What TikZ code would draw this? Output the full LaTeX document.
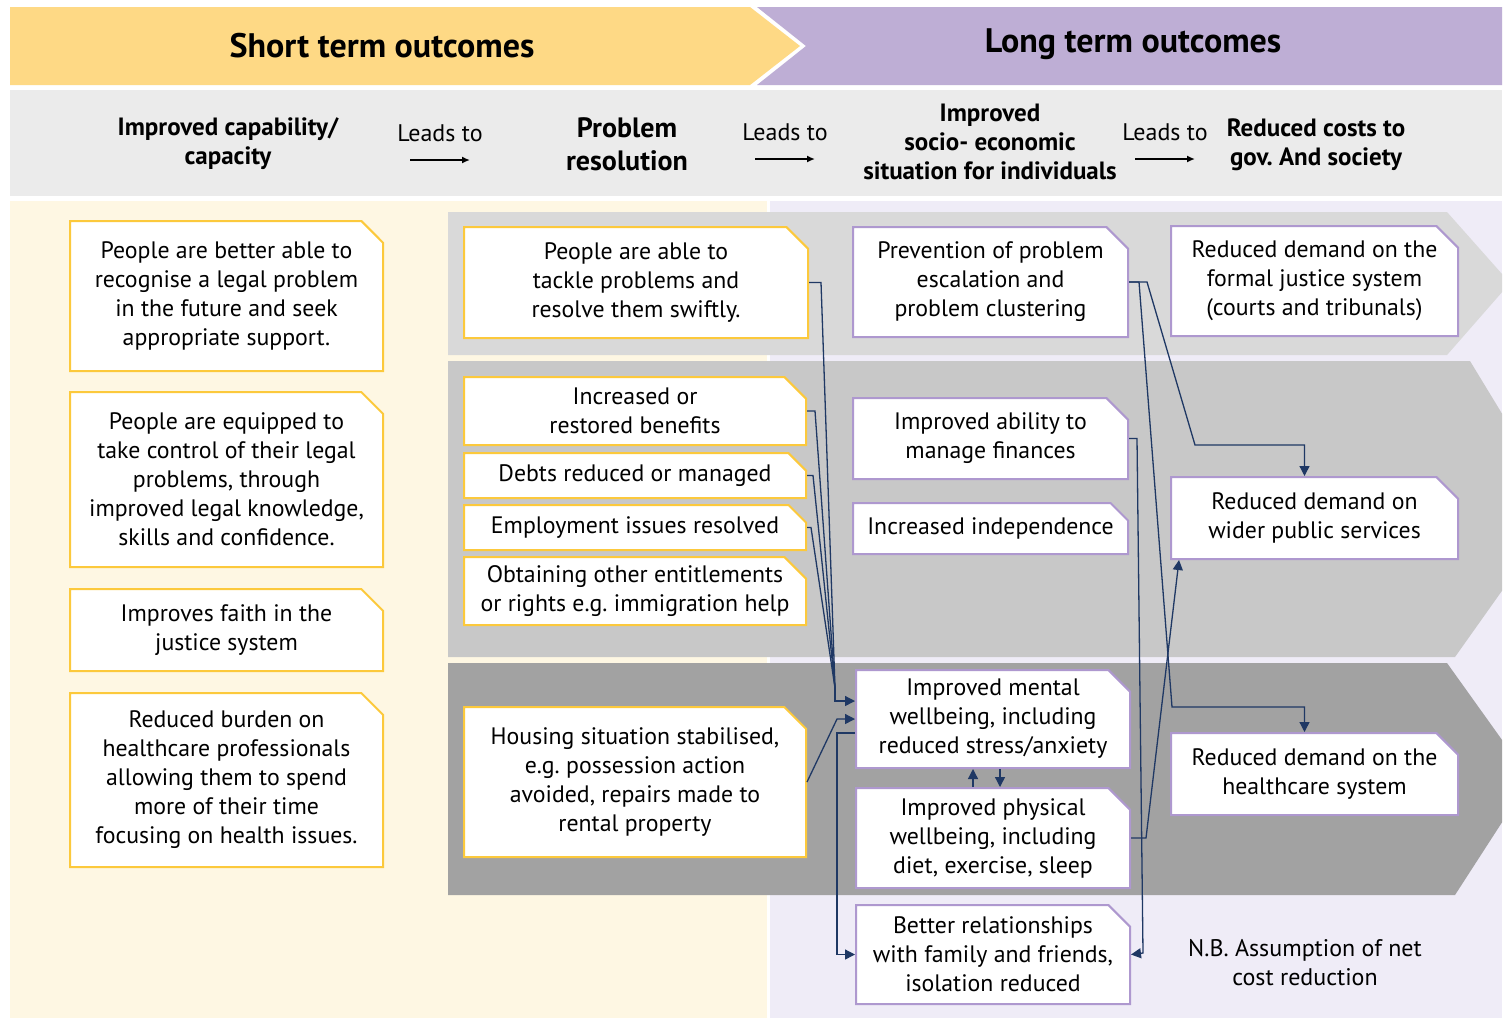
\documentclass[tikz,border=0pt]{standalone}
\usepackage{fontspec}
\setmainfont{PT Sans}
\usetikzlibrary{shapes.misc, arrows.meta}

\definecolor{shortyellow}{HTML}{FED985}
\definecolor{longpurple}{HTML}{BEAED5}
\definecolor{headgrey}{HTML}{EBEBEB}
\definecolor{shortpale}{HTML}{FEF7E3}
\definecolor{longpale}{HTML}{EFECF7}
\definecolor{bandone}{HTML}{D9D9D9}
\definecolor{bandtwo}{HTML}{C8C8C8}
\definecolor{bandthree}{HTML}{A2A2A2}
\definecolor{edgeyellow}{HTML}{FCC93C}
\definecolor{edgepurple}{HTML}{AE98CF}
\definecolor{linkblue}{HTML}{1F3864}

\begin{document}
\begin{tikzpicture}[x=0.5pt, y=-0.5pt,
  outbox/.style={chamfered rectangle, chamfered rectangle corners=north east,
    chamfered rectangle angle=45, chamfered rectangle xsep=7.5pt,
    draw=edgeyellow, line width=1pt, fill=white, align=center, inner sep=0pt,
    font=\fontsize{11.9}{14.5}\selectfont},
  longbox/.style={outbox, draw=edgepurple},
  headtext/.style={align=center, font=\bfseries\fontsize{12.5}{14.5}\selectfont},
  leadtext/.style={font=\fontsize{12}{14.5}\selectfont},
  bannertext/.style={font=\bfseries\fontsize{17}{20}\selectfont},
  link/.style={draw=linkblue, line width=0.65pt},
  arr/.style={link, -{Triangle[length=5pt, width=5pt]}}]

\useasboundingbox[fill=white] (0,0) rectangle (1503,1019);

% banners and bands
\begin{scope}
\clip (0,0) rectangle (1502,1019);
\fill[shortyellow] (10,7) -- (750,7) -- (800,46) -- (750,85) -- (10,85) -- cycle;
\fill[longpurple] (757,7) -- (1502,7) -- (1502,85) -- (757,85) -- (806,46) -- cycle;
\fill[headgrey] (10,90) rectangle (1502,196);
\fill[shortpale] (10,201) rectangle (767,1018);
\fill[longpale] (770,201) rectangle (1502,1018);
\fill[bandone] (448,212) -- (1447,212) -- (1510,283) -- (1447,355) -- (448,355) -- cycle;
\fill[bandtwo] (448,361) -- (1470,361) -- (1560,509) -- (1455,657) -- (448,657) -- cycle;
\fill[bandthree] (448,663) -- (1447,663) -- (1530,779) -- (1455,895) -- (448,895) -- cycle;
\end{scope}

\node[bannertext] (shortlbl) at (382,46) {Short term outcomes};
\node[bannertext] (longlbl) at (1133,44) {Long term outcomes};

% column headings
\node[headtext] (capability) at (228,144) {Improved capability/\\capacity};
\node[headtext, font=\bfseries\fontsize{14}{16.5}\selectfont] (resolution) at (627,144) {Problem\\resolution};
\node[headtext] (socio) at (990,142) {Improved\\socio- economic\\situation for individuals};
\node[headtext] (costs) at (1316,145) {Reduced costs to\\gov.\ And society};
\node[leadtext] (leadone) at (440,133) {Leads to};
\node[leadtext] (leadtwo) at (785,132) {Leads to};
\node[leadtext] (leadthree) at (1165,132) {Leads to};
\foreach \l in {leadone, leadtwo, leadthree}
  \draw[line width=0.8pt, -{Latex[length=4pt, width=3.5pt]}] ([xshift=-15pt, yshift=-13.5pt]\l.center) -- ([xshift=15pt, yshift=-13.5pt]\l.center);

% short term column
\node[outbox, minimum width=156.5pt, minimum height=75pt] (recognise) at (226.5,296) {People are better able to\\recognise a legal problem\\in the future and seek\\appropriate support.};
\node[outbox, minimum width=156.5pt, minimum height=87.5pt] (equipped) at (226.5,479.5) {People are equipped to\\take control of their legal\\problems, through\\improved legal knowledge,\\skills and confidence.};
\node[outbox, minimum width=156.5pt, minimum height=41pt] (faith) at (226.5,630) {Improves faith in the\\justice system};
\node[outbox, minimum width=156.5pt, minimum height=87pt] (burden) at (226.5,780) {Reduced burden on\\healthcare professionals\\allowing them to spend\\more of their time\\focusing on health issues.};

% problem resolution column
\node[outbox, minimum width=172pt, minimum height=55.5pt] (tackle) at (636,282.5) {People are able to\\tackle problems and\\resolve them swiftly.};
\node[outbox, minimum width=171pt, minimum height=34pt] (benefits) at (635,411) {Increased or\\restored benefits};
\node[outbox, minimum width=171pt, minimum height=22.5pt] (debts) at (635,475.5) {Debts reduced or managed};
\node[outbox, minimum width=171pt, minimum height=22.5pt] (employment) at (635,527.5) {Employment issues resolved};
\node[outbox, minimum width=171pt, minimum height=34pt] (entitlements) at (635,591) {Obtaining other entitlements\\or rights e.g.\ immigration help};
\node[outbox, minimum width=171pt, minimum height=75pt] (housing) at (635,782) {Housing situation stabilised,\\e.g.\ possession action\\avoided, repairs made to\\rental property};

% socio-economic column
\node[longbox, minimum width=137.5pt, minimum height=55pt] (prevention) at (990.5,282) {Prevention of problem\\escalation and\\problem clustering};
\node[longbox, minimum width=137.5pt, minimum height=40.5pt] (finances) at (990.5,438.5) {Improved ability to\\manage finances};
\node[longbox, minimum width=137.5pt, minimum height=25.5pt] (independence) at (990.5,528.5) {Increased independence};
\node[longbox, minimum width=137pt, minimum height=49pt] (mental) at (993,719) {Improved mental\\wellbeing, including\\reduced stress/anxiety};
\node[longbox, minimum width=137pt, minimum height=50pt] (physical) at (993,838) {Improved physical\\wellbeing, including\\diet, exercise, sleep};
\node[longbox, minimum width=137pt, minimum height=49.5pt] (relationships) at (993,954.5) {Better relationships\\with family and friends,\\isolation reduced};

% costs column
\node[longbox, minimum width=143.5pt, minimum height=55pt] (justice) at (1314.5,281) {Reduced demand on the\\formal justice system\\(courts and tribunals)};
\node[longbox, minimum width=143.5pt, minimum height=41pt] (public) at (1314.5,518) {Reduced demand on\\wider public services};
\node[longbox, minimum width=143.5pt, minimum height=41pt] (healthcare) at (1314.5,774) {Reduced demand on the\\healthcare system};
\node[leadtext, align=center] (nbnote) at (1305,963) {N.B.\ Assumption of net\\cost reduction};

% links into mental wellbeing
\coordinate (hub) at (835,688);
\draw[link] (tackle.east) -- ++(12,0) -- (hub);
\draw[link] (benefits.east) -- ++(8,0) -- (hub);
\draw[link] (debts.east) -- ++(6,0) -- (hub);
\draw[link] (employment.east) -- ++(4,0) -- (hub);
\draw[arr] (hub) |- ([yshift=9pt]mental.west);
\draw[arr] (housing.east) -- ([xshift=-9pt]mental.west) -- (mental.west);
\draw[arr] ([yshift=-7pt]mental.west) -- ++(-18,0) |- (relationships.west);
\draw[arr] ([xshift=-10pt]physical.north) -- ([xshift=-10pt]mental.south);
\draw[arr] ([xshift=3.5pt]mental.south) -- ([xshift=3.5pt]physical.north);

% links into costs
\coordinate (bendhealth) at (1172,707);
\coordinate (bendpublic) at (1195,445);
\coordinate (bendrel) at (1143,953);
\draw[arr] (prevention.east) -- ++(10,0) -- (bendhealth) -| ([xshift=-5pt]healthcare.north);
\draw[arr] (prevention.east) -- ++(18,0) -- (bendpublic) -| ([xshift=-5pt]public.north);
\draw[arr] (finances.east) -- ++(8,0) -- (bendrel) -- (relationships.east);
\draw[arr] (physical.east) -- ++(15,0) -- ([xshift=4.5pt]public.south west);
\end{tikzpicture}
\end{document}
